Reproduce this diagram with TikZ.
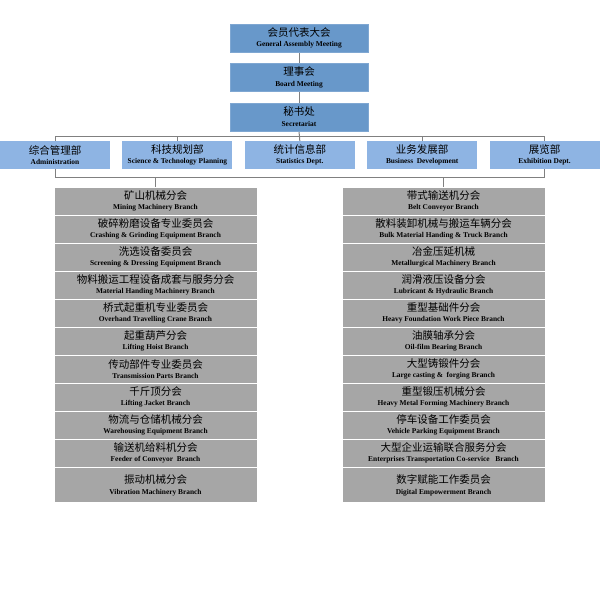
\documentclass[tikz,border=0pt]{standalone}
\usepackage{fontspec}
\setmainfont{Liberation Serif}
\newfontfamily\cjkfont{Noto Sans CJK SC}
\usetikzlibrary{positioning,backgrounds}

\definecolor{topblue}{RGB}{104,152,202}
\definecolor{deptblue}{RGB}{142,180,227}
\definecolor{rowgray}{RGB}{166,166,166}
\definecolor{linegray}{RGB}{128,128,128}

\newcommand{\twolines}[2]{{\cjkfont\fontsize{10.5}{12}\selectfont #1}\\[-1.5pt]{\bfseries\fontsize{7.4}{8}\selectfont #2}}

\begin{document}
\begin{tikzpicture}[x=1pt, y=-1pt,
    every node/.style={inner sep=0pt, align=center},
    topbox/.style={fill=topblue, draw=topblue!85!white, minimum width=138pt, minimum height=28pt},
    deptbox/.style={fill=deptblue, minimum width=110pt, minimum height=28pt},
    rowbox/.style={fill=rowgray, draw=white, line width=.8pt, minimum width=203pt, minimum height=28pt},
    link/.style={draw=linegray, line width=1pt}]
\useasboundingbox (0,0) rectangle (600,600);

% top of the tree
\node[topbox] (assembly) at (299,38) {\twolines{会员代表大会}{General Assembly Meeting}};
\node[topbox, below=11pt of assembly] (board) {\twolines{理事会}{Board Meeting}};
\node[topbox, below=11pt of board] (secretariat) {\twolines{秘书处}{Secretariat}};

% departments
\node[deptbox] (admin) at (55,155) {\twolines{综合管理部}{Administration}};
\node[deptbox, right=12pt of admin] (science) {\twolines{科技规划部}{Science \& Technology Planning}};
\node[deptbox, right=12pt of science] (stats) {\twolines{统计信息部}{Statistics Dept.}};
\node[deptbox, right=12pt of stats] (business) {\twolines{业务发展部}{Business\ \ Development}};
\node[deptbox, right=12pt of business] (exhibition) {\twolines{展览部}{Exhibition Dept.}};

% branches, left column
\foreach \cn/\eng [count=\i] in {矿山机械分会/Mining Machinery Branch,
    破碎粉磨设备专业委员会/Crashing \& Grinding Equipment Branch,
    洗选设备委员会/Screening \& Dressing Equipment Branch,
    物料搬运工程设备成套与服务分会/Material Handing Machinery Branch,
    桥式起重机专业委员会/Overhand Travelling Crane Branch,
    起重葫芦分会/Lifting Hoist Branch,
    传动部件专业委员会/Transmission Parts Branch,
    千斤顶分会/Lifting Jacket Branch,
    物流与仓储机械分会/Warehousing Equipment Branch,
    输送机给料机分会/Feeder of Conveyor\ \ Branch}
    \node[rowbox] (l\i) at (155.5,{201+28*(\i-1)}) {\twolines{\cn}{\eng}};
\node[rowbox, minimum height=35pt, below=0pt of l10] (l11) {\twolines{振动机械分会}{Vibration Machinery Branch}};

% branches, right column
\foreach \cn/\eng [count=\i] in {带式输送机分会/Belt Conveyor Branch,
    散料装卸机械与搬运车辆分会/Bulk Material Handing \& Truck Branch,
    冶金压延机械/Metallurgical Machinery Branch,
    润滑液压设备分会/Lubricant \& Hydraulic Branch,
    重型基础件分会/Heavy Foundation Work Piece Branch,
    油膜轴承分会/Oil-film Bearing Branch,
    大型铸锻件分会/Large casting \&\ \ forging Branch,
    重型锻压机械分会/Heavy Metal Forming Machinery Branch,
    停车设备工作委员会/Vehicle Parking Equipment Branch,
    大型企业运输联合服务分会/Enterprises Transportation Co-service\ \ \ Branch}
    \node[rowbox] (r\i) at (443.5,{201+28*(\i-1)}) {\twolines{\cn}{\eng}};
\node[rowbox, minimum height=35pt, below=0pt of r10] (r11) {\twolines{数字赋能工作委员会}{Digital Empowerment Branch}};

% connectors
\begin{scope}[on background layer]
    \coordinate (busTL) at (55,136);
    \coordinate (busBR) at (544,177);
    \draw[link] (busTL) rectangle (busBR);
    \draw[link] (assembly) -- (board);
    \draw[link] (board) -- (secretariat);
    \draw[link] (secretariat.south) -- (stats.north);
    \draw[link] (science.north) -- (science.north |- busTL);
    \draw[link] (business.north) -- (business.north |- busTL);
    \draw[link] (l1.north) -- (l1.north |- busBR);
    \draw[link] (r1.north) -- (r1.north |- busBR);
\end{scope}
\end{tikzpicture}
\end{document}
